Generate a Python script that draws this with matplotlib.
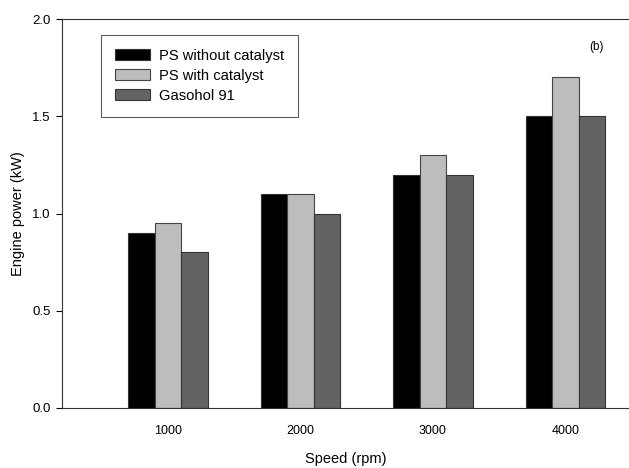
import numpy as np
import matplotlib
matplotlib.use('Agg')
import matplotlib.pyplot as plt

plt.rcParams['font.family'] = ['Liberation Sans', 'DejaVu Sans']

speeds = [1000, 2000, 3000, 4000]
ps_no_cat = [0.9, 1.1, 1.2, 1.5]
ps_cat = [0.95, 1.1, 1.3, 1.7]
gasohol = [0.8, 1.0, 1.2, 1.5]

x = np.array(speeds)
w = 200

fig = plt.figure(figsize=(6.29, 4.68), dpi=100)
ax = fig.add_axes([62/629, 60/468, 1 - 62/629, 389/468])

ax.bar(x - w, ps_no_cat, w, color='black', edgecolor='#333333', linewidth=0.8, label='PS without catalyst')
ax.bar(x, ps_cat, w, color='#bdbdbd', edgecolor='#444444', linewidth=0.8, label='PS with catalyst')
ax.bar(x + w, gasohol, w, color='#636363', edgecolor='#333333', linewidth=0.8, label='Gasohol 91')

ax.set_xlim(200, 4480)
ax.set_ylim(0, 2.0)
ax.set_yticks([0.0, 0.5, 1.0, 1.5, 2.0])
ax.set_yticklabels(['0.0', '0.5', '1.0', '1.5', '2.0'])
ax.set_xticks(speeds)
ax.set_xticklabels([str(s) for s in speeds])
ax.tick_params(axis='x', length=0, pad=12, labelsize=9)
ax.tick_params(axis='y', length=4, direction='out', labelsize=9.5, pad=4)
ax.spines['right'].set_visible(False)
for s in ['left', 'top', 'bottom']:
    ax.spines[s].set_color('#333333')

ax.set_xlabel('Speed (rpm)', fontsize=10.5, labelpad=11)
ax.set_ylabel('Engine power (kW)', fontsize=10.5, labelpad=5)

leg = ax.legend(loc='upper left', bbox_to_anchor=(0.0688, 0.959), fontsize=10.6, frameon=True,
                fancybox=False, edgecolor='#333333', handlelength=2.4, handleheight=0.75,
                borderpad=0.95, labelspacing=0.4, handletextpad=0.6, borderaxespad=0)
leg.get_frame().set_linewidth(0.8)

fig.text(596/629, 1 - 47/468, '(b)', fontsize=8.5, ha='center', va='center')

fig.savefig('out.png', dpi=100)
